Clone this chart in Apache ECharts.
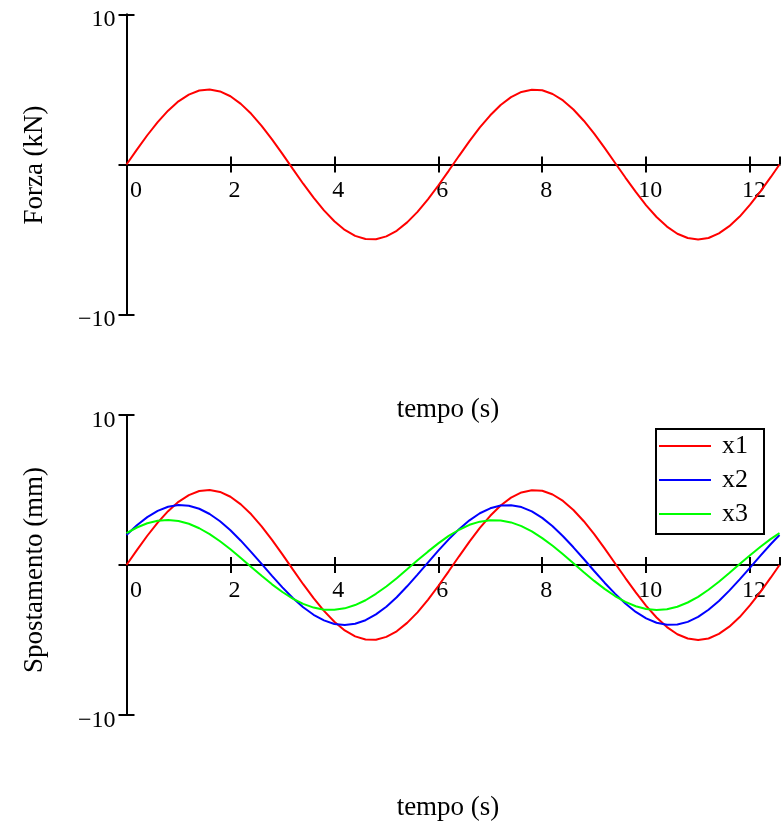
<!DOCTYPE html>
<html>
<head>
<meta charset="utf-8">
<script src="https://cdn.jsdelivr.net/npm/echarts@6/dist/echarts.min.js"></script>
<style>
  html, body { margin: 0; padding: 0; background: #ffffff; }
  #chart { width: 784px; height: 824px; }
</style>
</head>
<body>
<div id="chart"></div>
<script>
// Sample times (s)
var tempo = [0, 0.2, 0.4, 0.6, 0.8, 1.0, 1.2, 1.4, 1.6, 1.8, 2.0, 2.2, 2.4, 2.6, 2.8, 3.0,
  3.2, 3.4, 3.6, 3.8, 4.0, 4.2, 4.4, 4.6, 4.8, 5.0, 5.2, 5.4, 5.6, 5.8, 6.0, 6.2,
  6.4, 6.6, 6.8, 7.0, 7.2, 7.4, 7.6, 7.8, 8.0, 8.2, 8.4, 8.6, 8.8, 9.0, 9.2, 9.4,
  9.6, 9.8, 10.0, 10.2, 10.4, 10.6, 10.8, 11.0, 11.2, 11.4, 11.6, 11.8, 12.0, 12.2,
  12.4, 12.566];

// Force (kN)
var forza = [0, 0.99, 1.95, 2.82, 3.59, 4.21, 4.66, 4.93, 5.00, 4.87, 4.55, 4.04, 3.38, 2.58, 1.67, 0.71,
  -0.29, -1.28, -2.21, -3.06, -3.78, -4.36, -4.76, -4.97, -4.98, -4.79, -4.42, -3.86, -3.16, -2.32, -1.40, -0.42,
  0.58, 1.56, 2.47, 3.28, 3.97, 4.49, 4.84, 4.99, 4.95, 4.70, 4.27, 3.67, 2.92, 2.06, 1.11, 0.12,
  -0.87, -1.83, -2.72, -3.50, -4.14, -4.62, -4.90, -5.00, -4.90, -4.59, -4.11, -3.47, -2.68, -1.79,
  -0.83, 0];

// Displacements (mm)
var x1 = [0, 0.99, 1.95, 2.82, 3.59, 4.21, 4.66, 4.93, 5.00, 4.87, 4.55, 4.04, 3.38, 2.58, 1.67, 0.71,
  -0.29, -1.28, -2.21, -3.06, -3.78, -4.36, -4.76, -4.97, -4.98, -4.79, -4.42, -3.86, -3.16, -2.32, -1.40, -0.42,
  0.58, 1.56, 2.47, 3.28, 3.97, 4.49, 4.84, 4.99, 4.95, 4.70, 4.27, 3.67, 2.92, 2.06, 1.11, 0.12,
  -0.87, -1.83, -2.72, -3.50, -4.14, -4.62, -4.90, -5.00, -4.90, -4.59, -4.11, -3.47, -2.68, -1.79,
  -0.83, 0];
var x2 = [2.00, 2.65, 3.19, 3.61, 3.88, 4.00, 3.95, 3.75, 3.40, 2.92, 2.32, 1.62, 0.86, 0.07, -0.73, -1.49,
  -2.20, -2.82, -3.32, -3.69, -3.93, -4.00, -3.92, -3.68, -3.29, -2.78, -2.15, -1.42, -0.64, 0.16, 0.96, 1.71,
  2.39, 2.98, 3.45, 3.78, 3.97, 3.99, 3.86, 3.57, 3.14, 2.58, 1.92, 1.18, 0.40, -0.40, -1.18, -1.91,
  -2.57, -3.13, -3.56, -3.85, -3.99, -3.97, -3.79, -3.46, -2.98, -2.40, -1.71, -0.96, -0.17, 0.63,
  1.40, 2.00];
var x3 = [2.12, 2.50, 2.78, 2.95, 3.00, 2.93, 2.75, 2.45, 2.06, 1.58, 1.05, 0.47, -0.13, -0.72, -1.29, -1.80,
  -2.24, -2.59, -2.84, -2.98, -2.99, -2.89, -2.67, -2.35, -1.92, -1.43, -0.88, -0.29, 0.31, 0.89, 1.44, 1.94,
  2.35, 2.68, 2.89, 2.99, 2.97, 2.84, 2.59, 2.24, 1.79, 1.28, 0.71, 0.12, -0.48, -1.06, -1.59, -2.07,
  -2.46, -2.75, -2.93, -3.00, -2.95, -2.78, -2.50, -2.12, -1.65, -1.12, -0.54, 0.06, 0.65, 1.22,
  1.74, 2.12];

var xTicks = [0, 2, 4, 6, 8, 10, 12];
var yTicks = [-10, 0, 10];
var tMax = 12.566;

function pairs(ys) {
  return tempo.map(function (t, i) { return [t, ys[i]]; });
}

var FONT = 'Liberation Serif';
var BLACK = '#000000';
var PLOT_H = 300;

// The time axis crosses the plot at y = 0, i.e. halfway up each grid;
// two coincident axes give ticks that cross the line on both sides.
function xAxisPair(grid) {
  var base = {
    type: 'value', gridIndex: grid, position: 'bottom', offset: -PLOT_H / 2,
    min: xTicks[0], max: tMax, interval: xTicks[1] - xTicks[0],
    splitLine: { show: false },
    axisLine: { show: true, onZero: false, lineStyle: { color: BLACK, width: 2 } }
  };
  return [
    Object.assign({}, base, {
      axisTick: { show: true, inside: false, length: 8, lineStyle: { color: BLACK, width: 2 } },
      axisLabel: {
        show: true, margin: 14, color: BLACK, fontFamily: FONT, fontSize: 24,
        showMaxLabel: false,
        formatter: function (v) { return v === 0 ? '{z|0}' : '{n|' + v + '}'; },
        rich: {
          z: { fontFamily: FONT, fontSize: 24, color: BLACK, padding: [0, 0, 0, 19] },
          n: { fontFamily: FONT, fontSize: 24, color: BLACK, padding: [0, 0, 0, 8] }
        }
      }
    }),
    Object.assign({}, base, {
      axisTick: { show: true, inside: true, length: 8, lineStyle: { color: BLACK, width: 2 } },
      axisLabel: { show: false }
    })
  ];
}

function yAxisPair(grid) {
  var base = {
    type: 'value', gridIndex: grid, position: 'left',
    min: yTicks[0], max: yTicks[2], interval: yTicks[1] - yTicks[0],
    splitLine: { show: false },
    axisLine: { show: true, onZero: false, lineStyle: { color: BLACK, width: 2 } }
  };
  return [
    Object.assign({}, base, {
      axisTick: { show: true, inside: false, length: 8, lineStyle: { color: BLACK, width: 2 } },
      axisLabel: {
        show: true, margin: 11, color: BLACK,
        formatter: function (v) {
          if (v === 0) return '';
          return '{v|' + (v < 0 ? '\u2212' + Math.abs(v) : String(v)) + '}';
        },
        rich: { v: { fontFamily: FONT, fontSize: 24, color: BLACK, padding: [11, 0, 0, 0] } }
      }
    }),
    Object.assign({}, base, {
      axisTick: { show: true, inside: true, length: 8, lineStyle: { color: BLACK, width: 2 } },
      axisLabel: { show: false }
    })
  ];
}

function lineSeries(name, grid, ys, color) {
  return {
    name: name, type: 'line', xAxisIndex: grid * 2, yAxisIndex: grid * 2,
    data: pairs(ys), symbol: 'none', smooth: false, animation: false,
    lineStyle: { color: color, width: 2 }, itemStyle: { color: color }
  };
}

var chart = echarts.init(document.getElementById('chart'), null, { renderer: 'canvas' });

var titleStyle = { fill: BLACK, font: '27px "' + FONT + '"', textAlign: 'center', textVerticalAlign: 'middle' };

chart.setOption({
  animation: false,
  backgroundColor: '#ffffff',
  grid: [
    { left: 126.5, top: 14.5, width: 653, height: PLOT_H, containLabel: false },
    { left: 126.5, top: 415, width: 653, height: PLOT_H, containLabel: false }
  ],
  xAxis: xAxisPair(0).concat(xAxisPair(1)),
  yAxis: yAxisPair(0).concat(yAxisPair(1)),
  legend: {
    show: true, orient: 'vertical', left: 656, top: 429,
    data: ['x1', 'x2', 'x3'],
    icon: 'rect', itemWidth: 52, itemHeight: 2, itemGap: 8,
    padding: [4, 16, 7, 3],
    borderColor: BLACK, borderWidth: 2, borderRadius: 0,
    selectedMode: false,
    textStyle: { color: BLACK, fontFamily: FONT, fontSize: 26, lineHeight: 26, padding: [0, 0, 0, 6] }
  },
  series: [
    lineSeries('Forza', 0, forza, '#ff0000'),
    lineSeries('x1', 1, x1, '#ff0000'),
    lineSeries('x2', 1, x2, '#0000ff'),
    lineSeries('x3', 1, x3, '#00ff00')
  ],
  graphic: [
    { type: 'text', x: 448, y: 410, style: Object.assign({ text: 'tempo (s)' }, titleStyle) },
    { type: 'text', x: 448, y: 808, style: Object.assign({ text: 'tempo (s)' }, titleStyle) },
    { type: 'text', x: 35, y: 165, rotation: Math.PI / 2, style: Object.assign({ text: 'Forza (kN)' }, titleStyle) },
    { type: 'text', x: 35, y: 570, rotation: Math.PI / 2, style: Object.assign({ text: 'Spostamento (mm)' }, titleStyle) }
  ]
});
</script>
</body>
</html>
